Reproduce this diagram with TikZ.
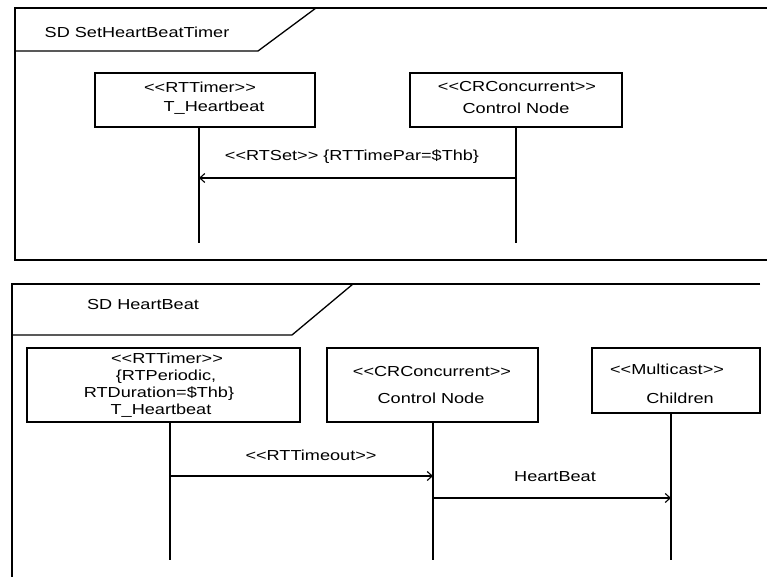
\documentclass[tikz,border=0pt]{standalone}
\usepackage{fontspec}
\setmainfont{Liberation Sans}[FakeStretch=1.25,Ligatures=TeXOff]
\usetikzlibrary{arrows.meta}
\begin{document}
\begin{tikzpicture}[x=1pt,y=-1pt,
  line width=1.3pt,
  txt/.style={inner sep=0pt,font=\fontsize{14.5}{17}\selectfont,anchor=center},
  lifebox/.style={draw,minimum width=#1,inner sep=0pt},
  lifeline/.style={line width=1.1pt},
  msg/.style={line width=1.1pt,-{Straight Barb[length=5pt,width=9pt,line width=1.1pt]}}]
\useasboundingbox (0,0) rectangle (767,577);

% ---------- frame: SD SetHeartBeatTimer ----------
\draw (767,8) -- (15,8) -- (15,260) -- (767,260);
\draw (15,51) -- (258,51) -- (316,8);
\node[txt] (sd1) at (137,32) {SD SetHeartBeatTimer};

\node[lifebox=220pt,minimum height=54pt] (t1) at (205,100) {};
\node[txt] (t1a) at (200,87) {<<RTTimer>>};
\node[txt] (t1b) at (214,108) {T\_Heartbeat};

\node[lifebox=212pt,minimum height=54pt] (c1) at (516,100) {};
\node[txt] (c1a) at (517,87) {<<CRConcurrent>>};
\node[txt] (c1b) at (516,108) {Control Node};

\coordinate (t1end) at (199,243);
\coordinate (c1end) at (516,243);
\draw[lifeline] (t1.south -| t1end) -- (t1end);
\draw[lifeline] (c1.south) -- (c1end);

\coordinate (m1s) at (516,178);
\coordinate (m1e) at (199,178);
\draw[msg] (m1s) -- (m1e);
\node[txt] (m1l) at (352,157) {<<RTSet>> \{RTTimePar=\$Thb\}};

% ---------- frame: SD HeartBeat ----------
\draw (760,284) -- (12,284) -- (12,577);
\draw (12,335) -- (292,335) -- (353,284);
\node[txt] (sd2) at (143,305) {SD HeartBeat};

\node[lifebox=273pt,minimum height=74pt] (t2) at (163.5,385) {};
\node[txt] (t2a) at (167,358) {<<RTTimer>>};
\node[txt] (t2b) at (166,377) {\{RTPeriodic,};
\node[txt] (t2c) at (159,394) {RTDuration=\$Thb\}};
\node[txt] (t2d) at (161,411) {T\_Heartbeat};

\node[lifebox=211pt,minimum height=74pt] (c2) at (432.5,385) {};
\node[txt] (c2a) at (432,372) {<<CRConcurrent>>};
\node[txt] (c2b) at (431,398) {Control Node};

\node[lifebox=168pt,minimum height=65pt] (ch) at (676,380.5) {};
\node[txt] (cha) at (667,369) {<<Multicast>>};
\node[txt] (chb) at (680,398) {Children};

\coordinate (t2end) at (170,560);
\coordinate (c2end) at (433,560);
\coordinate (chend) at (671,560);
\draw[lifeline] (t2.south -| t2end) -- (t2end);
\draw[lifeline] (c2.south -| c2end) -- (c2end);
\draw[lifeline] (ch.south -| chend) -- (chend);

\coordinate (m2s) at (170,476);
\coordinate (m2e) at (433,476);
\draw[msg] (m2s) -- (m2e);
\node[txt] (m2l) at (311,455) {<<RTTimeout>>};

\coordinate (m3s) at (433,498);
\coordinate (m3e) at (671,498);
\draw[msg] (m3s) -- (m3e);
\node[txt] (m3l) at (555,477) {HeartBeat};
\end{tikzpicture}
\end{document}
